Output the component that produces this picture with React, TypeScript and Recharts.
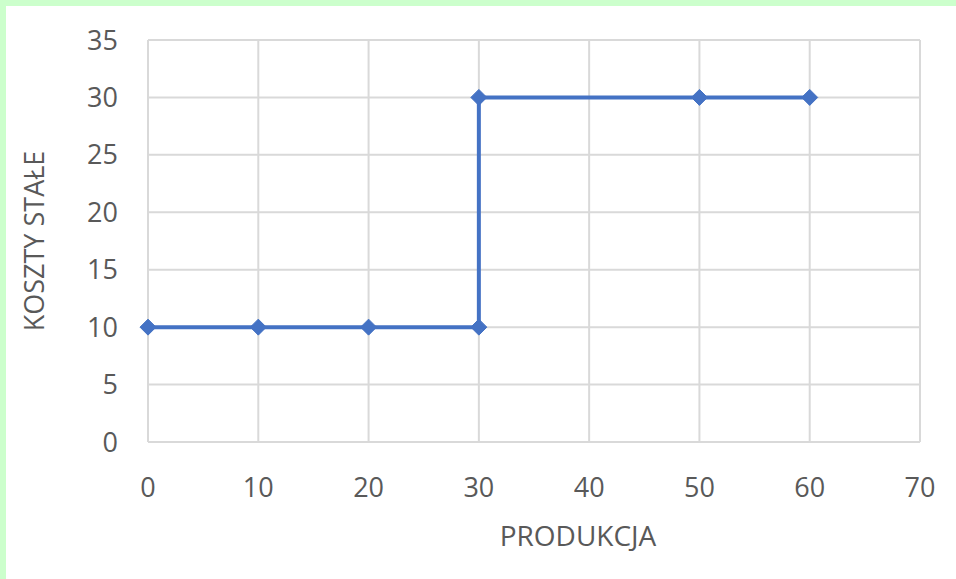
import React from 'react';
import { LineChart, Line, XAxis, YAxis, CartesianGrid, Label } from 'recharts';

const produkcja = [0, 10, 20, 30, 30, 50, 60];
const kosztyStale = [10, 10, 10, 10, 30, 30, 30];
const xTicks = [0, 10, 20, 30, 40, 50, 60, 70];
const yTicks = [0, 5, 10, 15, 20, 25, 30, 35];

const data = produkcja.map((x, i) => ({ x, y: kosztyStale[i] }));

const FONT = '"Open Sans", "Noto Sans", sans-serif';
const TEXT = '#595959';
const GRID = '#d9d9d9';
const BLUE = '#4472c4';

const Diamond = (props: any) => {
  const { cx, cy, index } = props;
  if (cx == null || cy == null) return null;
  const r = 8;
  return (
    <polygon
      key={`d-${index}`}
      points={`${cx},${cy - r} ${cx + r},${cy} ${cx},${cy + r} ${cx - r},${cy}`}
      fill={BLUE}
      stroke={BLUE}
      strokeWidth={1}
    />
  );
};

export default function App() {
  return (
    <div style={{ position: 'absolute', left: 0, top: 0, width: 956, height: 579, background: '#fff', overflow: 'hidden' }}>
      <div style={{ position: 'absolute', left: 0, top: 0, width: 956, height: 6, background: '#ccffcc' }} />
      <div style={{ position: 'absolute', left: 0, top: 0, width: 6, height: 579, background: '#ccffcc' }} />
      <div style={{ position: 'absolute', left: 0, top: 0 }}>
        <LineChart width={956} height={579} data={data} margin={{ top: 40, right: 36, bottom: 0, left: 10 }}>
          <CartesianGrid stroke={GRID} strokeWidth={2} />
          <XAxis
            dataKey="x"
            type="number"
            domain={[0, 70]}
            ticks={xTicks}
            interval={0}
            height={137}
            axisLine={{ stroke: GRID, strokeWidth: 2 }}
            tickLine={false}
            tickSize={0}
            tickMargin={36}
            tick={{ fill: TEXT, fontSize: 27, fontFamily: FONT }}
          >
            <Label
              content={() => (
                <text x={578} y={535} textAnchor="middle" dominantBaseline="central" fill={TEXT} fontSize={28} fontFamily={FONT}>
                  PRODUKCJA
                </text>
              )}
            />
          </XAxis>
          <YAxis
            type="number"
            domain={[0, 35]}
            ticks={yTicks}
            interval={0}
            width={138}
            axisLine={false}
            tickLine={false}
            tickSize={0}
            tickMargin={30}
            tick={{ fill: TEXT, fontSize: 27, fontFamily: FONT }}
          >
            <Label
              content={() => (
                <text
                  x={33}
                  y={241}
                  textAnchor="middle"
                  dominantBaseline="central"
                  transform="rotate(-90 33 241)"
                  fill={TEXT}
                  fontSize={27}
                  fontFamily={FONT}
                >
                  KOSZTY STAŁE
                </text>
              )}
            />
          </YAxis>
          <Line
            type="linear"
            dataKey="y"
            stroke={BLUE}
            strokeWidth={4}
            dot={Diamond}
            activeDot={false}
            isAnimationActive={false}
          />
        </LineChart>
      </div>
    </div>
  );
}
